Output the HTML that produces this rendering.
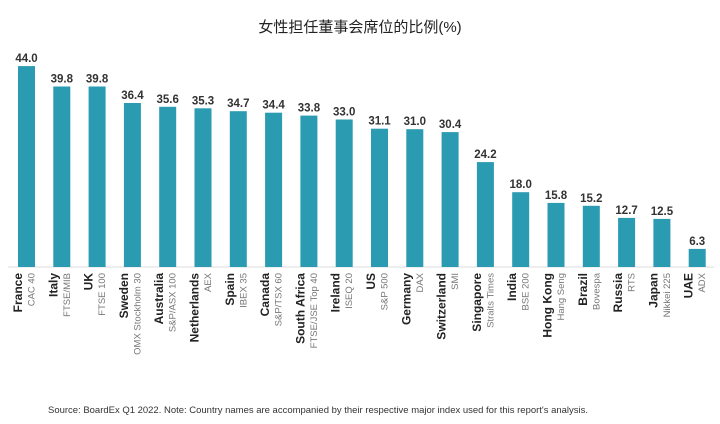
<!DOCTYPE html><html><head><meta charset="utf-8"><style>body{margin:0;background:#fff}svg{display:block}.v{font-size:11.5px;font-weight:bold;fill:#333;text-anchor:middle}.n{font-size:12px;font-weight:bold;fill:#222;text-anchor:end}.i{font-size:9.5px;fill:#777;text-anchor:end}rect{fill:#2a9bb1}</style></head><body>
<svg width="720" height="424" xmlns="http://www.w3.org/2000/svg" font-family="Liberation Sans, sans-serif">
<text x="360" y="32" text-anchor="middle" font-size="15" fill="#222" font-family="Liberation Sans, Noto Sans CJK SC, sans-serif">女性担任董事会席位的比例(%)</text>
<line x1="8" y1="267" x2="714" y2="267" stroke="#ddd" stroke-width="1"/>
<g transform="translate(26.5,0)"><rect x="-8.5" y="66.1" width="17" height="200.9"/><text class="v" y="62.1">44.0</text><text class="n" transform="translate(-4.5,273) rotate(-90)">France</text><text class="i" transform="translate(8,273) rotate(-90)">CAC 40</text></g>
<g transform="translate(61.8,0)"><rect x="-8.5" y="86.5" width="17" height="180.5"/><text class="v" y="82.5">39.8</text><text class="n" transform="translate(-4.5,273) rotate(-90)">Italy</text><text class="i" transform="translate(8,273) rotate(-90)">FTSE/MIB</text></g>
<g transform="translate(97.1,0)"><rect x="-8.5" y="86.5" width="17" height="180.5"/><text class="v" y="82.5">39.8</text><text class="n" transform="translate(-4.5,273) rotate(-90)">UK</text><text class="i" transform="translate(8,273) rotate(-90)">FTSE 100</text></g>
<g transform="translate(132.4,0)"><rect x="-8.5" y="103" width="17" height="164"/><text class="v" y="99">36.4</text><text class="n" transform="translate(-4.5,273) rotate(-90)">Sweden</text><text class="i" transform="translate(8,273) rotate(-90)">OMX Stockholm 30</text></g>
<g transform="translate(167.7,0)"><rect x="-8.5" y="106.8" width="17" height="160.2"/><text class="v" y="102.8">35.6</text><text class="n" transform="translate(-4.5,273) rotate(-90)">Australia</text><text class="i" transform="translate(8,273) rotate(-90)">S&amp;P/ASX 100</text></g>
<g transform="translate(203,0)"><rect x="-8.5" y="108.3" width="17" height="158.7"/><text class="v" y="104.3">35.3</text><text class="n" transform="translate(-4.5,273) rotate(-90)">Netherlands</text><text class="i" transform="translate(8,273) rotate(-90)">AEX</text></g>
<g transform="translate(238.3,0)"><rect x="-8.5" y="111.2" width="17" height="155.8"/><text class="v" y="107.2">34.7</text><text class="n" transform="translate(-4.5,273) rotate(-90)">Spain</text><text class="i" transform="translate(8,273) rotate(-90)">IBEX 35</text></g>
<g transform="translate(273.6,0)"><rect x="-8.5" y="112.7" width="17" height="154.3"/><text class="v" y="108.7">34.4</text><text class="n" transform="translate(-4.5,273) rotate(-90)">Canada</text><text class="i" transform="translate(8,273) rotate(-90)">S&amp;P/TSX 60</text></g>
<g transform="translate(308.9,0)"><rect x="-8.5" y="115.6" width="17" height="151.4"/><text class="v" y="111.6">33.8</text><text class="n" transform="translate(-4.5,273) rotate(-90)">South Africa</text><text class="i" transform="translate(8,273) rotate(-90)">FTSE/JSE Top 40</text></g>
<g transform="translate(344.2,0)"><rect x="-8.5" y="119.5" width="17" height="147.5"/><text class="v" y="115.5">33.0</text><text class="n" transform="translate(-4.5,273) rotate(-90)">Ireland</text><text class="i" transform="translate(8,273) rotate(-90)">ISEQ 20</text></g>
<g transform="translate(379.5,0)"><rect x="-8.5" y="128.7" width="17" height="138.3"/><text class="v" y="124.7">31.1</text><text class="n" transform="translate(-4.5,273) rotate(-90)">US</text><text class="i" transform="translate(8,273) rotate(-90)">S&amp;P 500</text></g>
<g transform="translate(414.8,0)"><rect x="-8.5" y="129.2" width="17" height="137.8"/><text class="v" y="125.2">31.0</text><text class="n" transform="translate(-4.5,273) rotate(-90)">Germany</text><text class="i" transform="translate(8,273) rotate(-90)">DAX</text></g>
<g transform="translate(450.1,0)"><rect x="-8.5" y="132.1" width="17" height="134.9"/><text class="v" y="128.1">30.4</text><text class="n" transform="translate(-4.5,273) rotate(-90)">Switzerland</text><text class="i" transform="translate(8,273) rotate(-90)">SMI</text></g>
<g transform="translate(485.4,0)"><rect x="-8.5" y="162.1" width="17" height="104.9"/><text class="v" y="158.1">24.2</text><text class="n" transform="translate(-4.5,273) rotate(-90)">Singapore</text><text class="i" transform="translate(8,273) rotate(-90)">Straits Times</text></g>
<g transform="translate(520.7,0)"><rect x="-8.5" y="192.2" width="17" height="74.8"/><text class="v" y="188.2">18.0</text><text class="n" transform="translate(-4.5,273) rotate(-90)">India</text><text class="i" transform="translate(8,273) rotate(-90)">BSE 200</text></g>
<g transform="translate(556,0)"><rect x="-8.5" y="202.9" width="17" height="64.1"/><text class="v" y="198.9">15.8</text><text class="n" transform="translate(-4.5,273) rotate(-90)">Hong Kong</text><text class="i" transform="translate(8,273) rotate(-90)">Hang Seng</text></g>
<g transform="translate(591.3,0)"><rect x="-8.5" y="205.8" width="17" height="61.2"/><text class="v" y="201.8">15.2</text><text class="n" transform="translate(-4.5,273) rotate(-90)">Brazil</text><text class="i" transform="translate(8,273) rotate(-90)">Bovespa</text></g>
<g transform="translate(626.6,0)"><rect x="-8.5" y="217.9" width="17" height="49.1"/><text class="v" y="213.9">12.7</text><text class="n" transform="translate(-4.5,273) rotate(-90)">Russia</text><text class="i" transform="translate(8,273) rotate(-90)">RTS</text></g>
<g transform="translate(661.9,0)"><rect x="-8.5" y="218.9" width="17" height="48.1"/><text class="v" y="214.9">12.5</text><text class="n" transform="translate(-4.5,273) rotate(-90)">Japan</text><text class="i" transform="translate(8,273) rotate(-90)">Nikkei 225</text></g>
<g transform="translate(697.2,0)"><rect x="-8.5" y="248.9" width="17" height="18.1"/><text class="v" y="244.9">6.3</text><text class="n" transform="translate(-4.5,273) rotate(-90)">UAE</text><text class="i" transform="translate(8,273) rotate(-90)">ADX</text></g>
<text x="48" y="413" font-size="9.5" fill="#333" textLength="540" lengthAdjust="spacingAndGlyphs">Source: BoardEx Q1 2022. Note: Country names are accompanied by their respective major index used for this report's analysis.</text>
</svg></body></html>
